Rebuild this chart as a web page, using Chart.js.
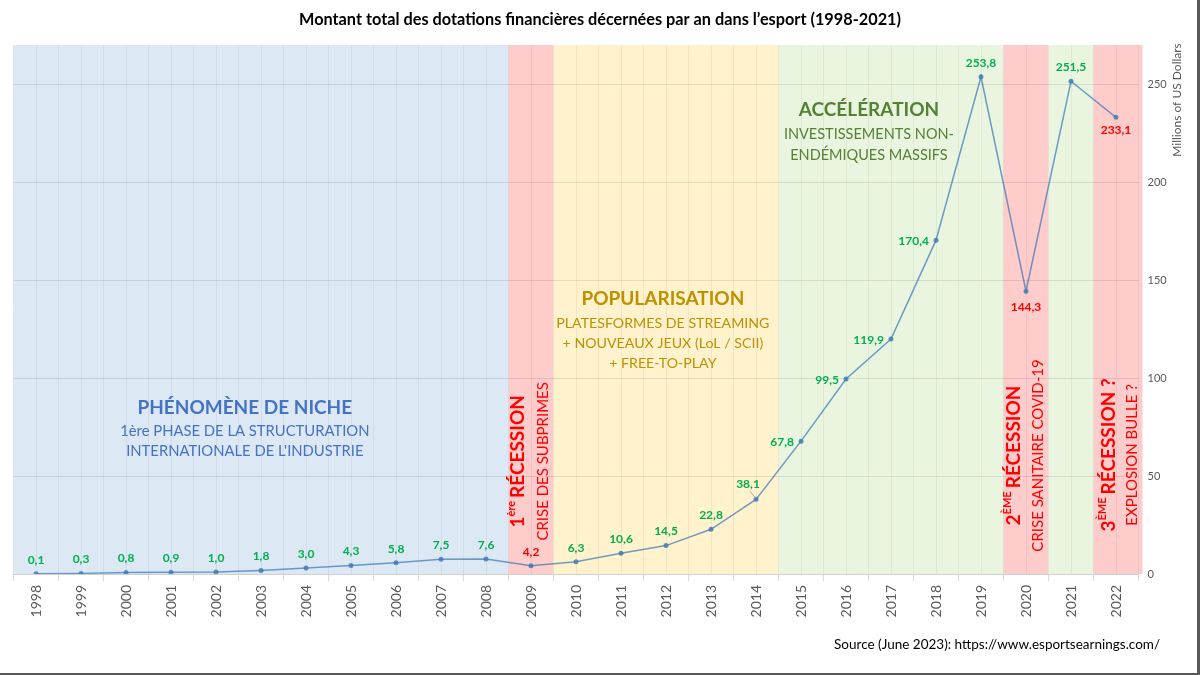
<!DOCTYPE html>
<html>
<head>
<meta charset="utf-8">
<script src="https://cdn.jsdelivr.net/npm/chart.js@4.4.0/dist/chart.umd.min.js"></script>
<style>
  body { margin: 0; background: #fff; }
  canvas { display: block; }
</style>
</head>
<body>
<canvas id="prizeChart" width="1200" height="675"></canvas>
<script>
const years = ['1998', '1999', '2000', '2001', '2002', '2003', '2004', '2005', '2006', '2007', '2008', '2009',
    '2010', '2011', '2012', '2013', '2014', '2015', '2016', '2017', '2018', '2019', '2020', '2021', '2022'];
const prizeMoney = [0.1, 0.3, 0.8, 0.9, 1.0, 1.8, 3.0, 4.3, 5.8, 7.5, 7.6, 4.2,
    6.3, 10.6, 14.5, 22.8, 38.1, 67.8, 99.5, 119.9, 170.4, 253.8, 144.3, 251.5, 233.1];
const declineYears = ['2009', '2020', '2022'];

const phaseFrom = ['1998', '2009', '2010', '2015', '2020', '2021', '2022'];
const phaseTo = ['2008', '2009', '2014', '2019', '2020', '2021', '2022'];
const phaseKind = ['niche', 'crise', 'popular', 'accel', 'crise', 'accel', 'crise'];

const nicheText = ['PHÉNOMÈNE DE NICHE', '1ère PHASE DE LA STRUCTURATION', "INTERNATIONALE DE L'INDUSTRIE"];
const popularText = ['POPULARISATION', 'PLATESFORMES DE STREAMING', '+ NOUVEAUX JEUX (LoL / SCII)', '+ FREE-TO-PLAY'];
const accelText = ['ACCÉLÉRATION', 'INVESTISSEMENTS NON-', 'ENDÉMIQUES MASSIFS'];
const recession1 = ['1', 'ère', 'RÉCESSION', 'CRISE DES SUBPRIMES'];
const recession2 = ['2', 'ÈME', 'RÉCESSION', 'CRISE SANITAIRE COVID-19'];
const recession3 = ['3', 'ÈME', 'RÉCESSION ?', 'EXPLOSION BULLE ?'];

const chartTitle = 'Montant total des dotations financières décernées par an dans l’esport (1998-2021)';
const axisTitle = 'Millions of US Dollars';
const sourceText = 'Source (June 2023): https://www.esportsearnings.com/';

const FONT = 'Lato, "Open Sans", sans-serif';
const bandColors = { niche: '#dde8f5', crise: '#ffcccc', popular: '#fff2cc', accel: '#eaf5df' };
const RED = '#ff0000';
const GREEN = '#00b050';

function fmt(v) { return v.toFixed(1).replace('.', ','); }

const decor = {
    id: 'decor',
    beforeDraw(chart) {
        const { ctx, chartArea: a, scales: { x } } = chart;
        const half = (x.getPixelForValue(1) - x.getPixelForValue(0)) / 2;
        ctx.save();
        phaseFrom.forEach((f, i) => {
            const x0 = x.getPixelForValue(years.indexOf(f)) - half;
            let x1 = x.getPixelForValue(years.indexOf(phaseTo[i])) + half;
            if (i === phaseFrom.length - 1) x1 += 4;
            ctx.fillStyle = bandColors[phaseKind[i]];
            ctx.fillRect(x0, a.top, x1 - x0, a.bottom - a.top);
        });
        ctx.restore();
    },
    beforeDatasetsDraw(chart) {
        const { ctx, chartArea: a, scales: { x, y } } = chart;
        ctx.save();
        // gridlines at the category centres
        ctx.strokeStyle = 'rgba(0,0,0,0.05)';
        ctx.lineWidth = 1;
        years.forEach((yr, i) => {
            const px = Math.round(x.getPixelForValue(i)) + 0.5;
            ctx.beginPath();
            ctx.moveTo(px, a.top);
            ctx.lineTo(px, a.bottom);
            ctx.stroke();
        });

        ctx.textAlign = 'center';
        ctx.textBaseline = 'middle';
        const block = (lines, xi, yv, color, titleSize, size, gaps) => {
            const cx = x.getPixelForValue(xi);
            let cy = y.getPixelForValue(yv);
            ctx.fillStyle = color;
            lines.forEach((t, i) => {
                ctx.font = (i === 0 ? 'bold ' + titleSize : size) + 'px ' + FONT;
                ctx.fillText(t, cx, cy);
                cy += gaps[i === 0 ? 0 : 1];
            });
        };
        block(nicheText, 4.64, 84.9, '#4472c4', 19, 14.8, [24, 20]);
        block(popularText, 13.93, 140.6, '#bf9000', 19, 14.2, [25, 20]);
        block(accelText, 18.51, 236.7, '#548235', 19, 14.5, [24, 21]);

        const vertical = (parts, xBig, xSmall, yv) => {
            const big = 'bold 19px ' + FONT, sup = 'bold 11px ' + FONT, small = '15px ' + FONT;
            const cy = y.getPixelForValue(yv);
            // bold line with superscript
            ctx.save();
            ctx.translate(x.getPixelForValue(xBig), cy);
            ctx.rotate(-Math.PI / 2);
            ctx.textAlign = 'left';
            ctx.textBaseline = 'alphabetic';
            ctx.fillStyle = RED;
            ctx.font = big; const w0 = ctx.measureText(parts[0]).width;
            ctx.font = sup; const w1 = ctx.measureText(parts[1]).width + 3;
            ctx.font = big; const w2 = ctx.measureText(parts[2]).width;
            let lx = -(w0 + w1 + w2) / 2;
            ctx.font = big; ctx.fillText(parts[0], lx, 7);
            ctx.font = sup; ctx.fillText(parts[1], lx + w0, -2);
            ctx.font = big; ctx.fillText(parts[2], lx + w0 + w1, 7);
            ctx.restore();
            ctx.save();
            ctx.translate(x.getPixelForValue(xSmall), cy);
            ctx.rotate(-Math.PI / 2);
            ctx.textAlign = 'center';
            ctx.textBaseline = 'middle';
            ctx.fillStyle = RED;
            ctx.font = small;
            ctx.fillText(parts[3], 0, 0);
            ctx.restore();
        };
        vertical(recession1, 10.69, 11.27, 57.5);
        vertical(recession2, 21.71, 22.27, 60.5);
        vertical(recession3, 23.82, 24.36, 60.8);
        ctx.restore();
    },
    afterDatasetsDraw(chart) {
        const { ctx } = chart;
        const meta = chart.getDatasetMeta(0);
        ctx.save();
        ctx.font = 'bold 12px ' + FONT;
        ctx.textBaseline = 'middle';
        meta.data.forEach((pt, i) => {
            const v = prizeMoney[i];
            let dx = 0, dy = -14, align = 'center';
            if (i >= 17 && i <= 20) { dx = -7; dy = 1; align = 'right'; }
            if (i === 22) dy = 16;
            if (i === 24) dy = 13;
            if (i === 16) {
                dx = -8; dy = -15;
                ctx.strokeStyle = '#a6a6a6';
                ctx.lineWidth = 1;
                ctx.beginPath();
                ctx.moveTo(pt.x - 6, pt.y - 8);
                ctx.lineTo(pt.x - 1, pt.y - 2);
                ctx.stroke();
            }
            ctx.textAlign = align;
            ctx.fillStyle = declineYears.includes(years[i]) ? RED : GREEN;
            ctx.fillText(fmt(v), pt.x + dx, pt.y + dy);
        });
        ctx.restore();
    },
    afterDraw(chart) {
        const { ctx } = chart;
        ctx.save();
        ctx.fillStyle = '#000';
        ctx.font = 'bold 16.3px ' + FONT;
        ctx.textAlign = 'center';
        ctx.textBaseline = 'middle';
        ctx.fillText(chartTitle, 600, 20);

        ctx.font = '13.5px ' + FONT;
        ctx.textAlign = 'right';
        ctx.fillText(sourceText, 1160, 645);

        ctx.save();
        ctx.translate(1177, 100);
        ctx.rotate(-Math.PI / 2);
        ctx.textAlign = 'center';
        ctx.fillStyle = '#595959';
        ctx.font = '12px ' + FONT;
        ctx.fillText(axisTitle, 0, 0);
        ctx.restore();

        ctx.fillStyle = '#595959';
        ctx.fillRect(1197, 0, 3, 675);
        ctx.fillRect(0, 673, 1200, 2);
        ctx.restore();
    }
};

new Chart(document.getElementById('prizeChart').getContext('2d'), {
    type: 'line',
    data: {
        labels: years,
        datasets: [{
            label: 'Dotations',
            data: prizeMoney,
            borderColor: 'rgba(60, 120, 180, 0.72)',
            backgroundColor: 'rgba(60, 120, 180, 0.8)',
            borderWidth: 1.5,
            pointRadius: 2.5,
            pointBorderWidth: 0,
            tension: 0,
            fill: false
        }]
    },
    options: {
        responsive: false,
        animation: false,
        layout: { padding: { left: 13.5, top: 45, right: 0, bottom: 0 } },
        plugins: { legend: { display: false }, tooltip: { enabled: false } },
        scales: {
            x: {
                offset: true,
                grid: { offset: true, color: 'rgba(0,0,0,0.05)', tickLength: 7, tickColor: '#d9d9d9' },
                border: { color: '#d0d0d0' },
                ticks: { minRotation: 90, maxRotation: 90, padding: 4, color: '#595959', font: { family: FONT, size: 14 } },
                afterFit(s) { s.height = 101; }
            },
            y: {
                position: 'right',
                min: 0,
                max: 270,
                grid: { color: 'rgba(0,0,0,0.1)', drawTicks: false },
                border: { display: false },
                ticks: { stepSize: 50, padding: 9, color: '#595959', font: { family: FONT, size: 11 } },
                afterBuildTicks(s) { s.ticks = s.ticks.filter(t => t.value % 50 === 0); },
                afterFit(s) { s.width = 61.5; }
            }
        }
    },
    plugins: [decor]
});
</script>
</body>
</html>
